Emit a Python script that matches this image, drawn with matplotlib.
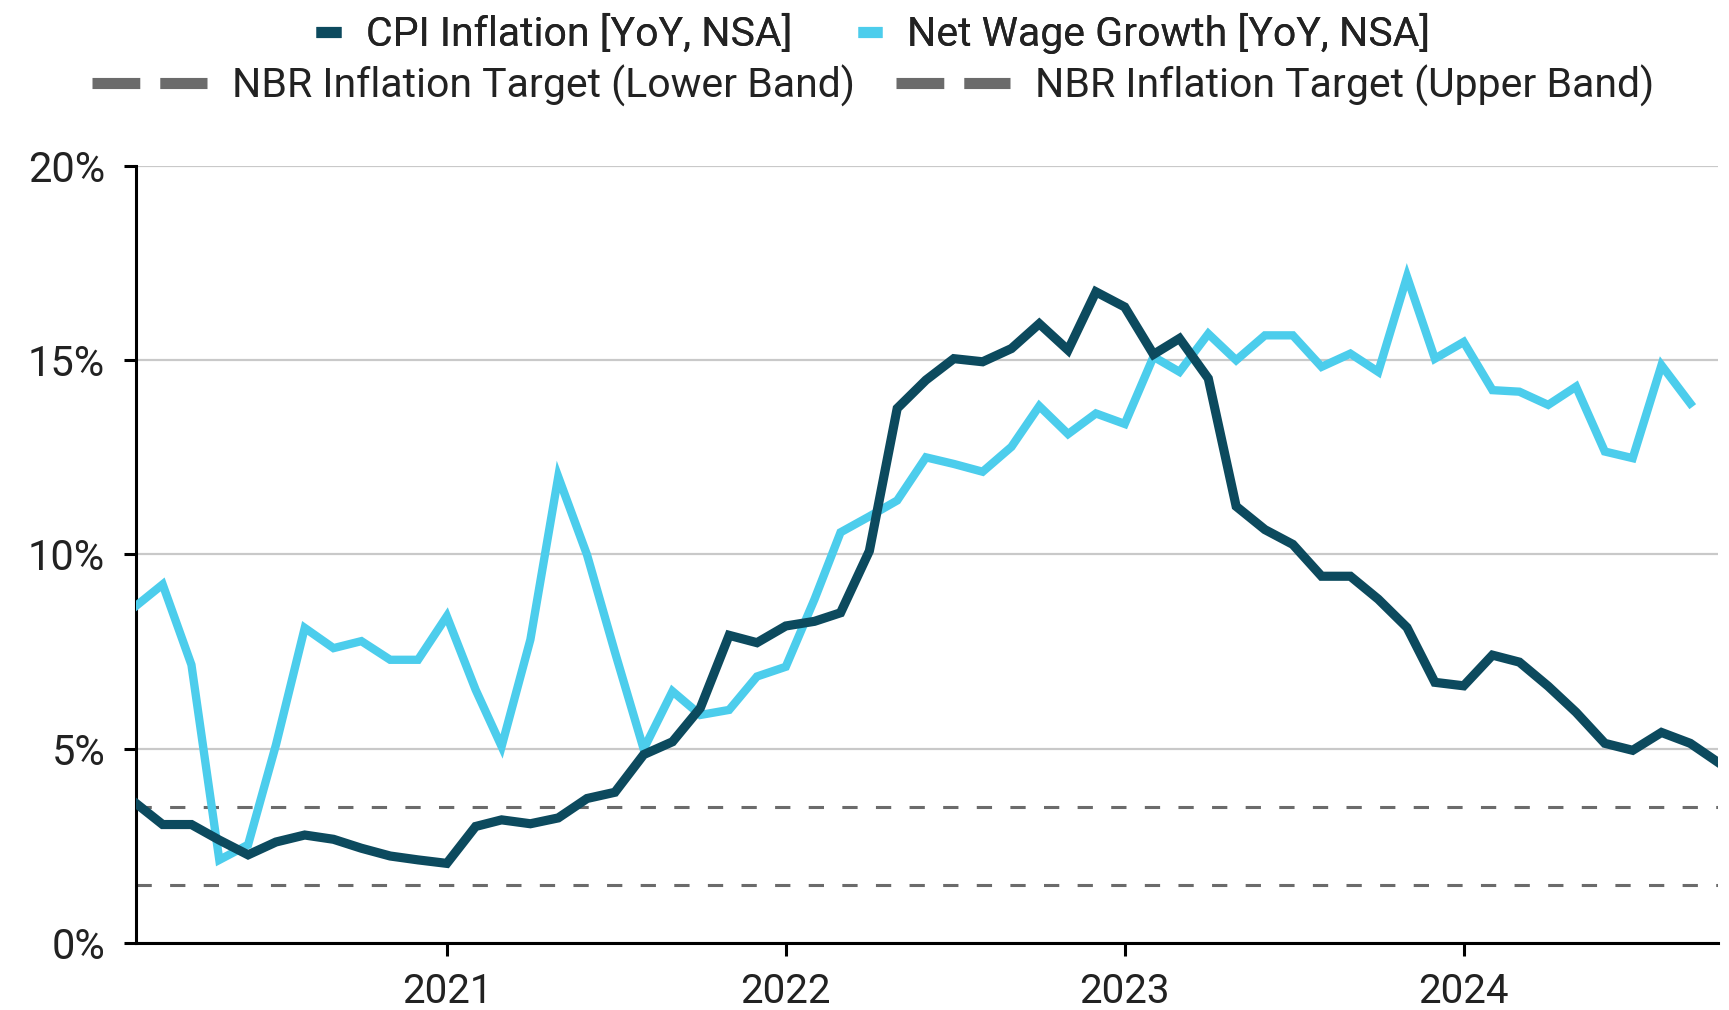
"""
Romania: CPI inflation vs net wage growth, with the NBR inflation target band.
"""

# imports
import numpy as np                # for numerical operations
import pandas as pd               # for the monthly dates
import matplotlib
matplotlib.use("Agg")
import matplotlib.pyplot as plt   # for data visualization
from matplotlib.lines import Line2D

# data (monthly, YoY %)
cpi_start = "2020-02-01"
cpi_inflation = [
    3.60, 3.05, 3.05, 2.65, 2.27, 2.60, 2.78, 2.67, 2.44, 2.24, 2.14,   # 2020
    2.05, 3.00, 3.17, 3.07, 3.22, 3.72, 3.88, 4.85, 5.18, 6.05, 7.92, 7.73,   # 2021
    8.16, 8.28, 8.50, 10.09, 13.76, 14.49, 15.04, 14.96, 15.30, 15.94, 15.26, 16.76,   # 2022
    16.37, 15.15, 15.56, 14.53, 11.24, 10.64, 10.26, 9.44, 9.44, 8.85, 8.12, 6.71,   # 2023
    6.62, 7.41, 7.23, 6.61, 5.94, 5.14, 4.96, 5.42, 5.14, 4.65,   # 2024
]
net_wage_growth = [
    8.67, 9.23, 7.16, 2.14, 2.53, 5.10, 8.11, 7.59, 7.77, 7.29, 7.29,
    8.41, 6.52, 5.06, 7.81, 12.00, 9.99, 7.49, 4.99, 6.48, 5.87, 6.00, 6.86,
    7.11, 8.85, 10.57, 10.98, 11.39, 12.50, 12.33, 12.13, 12.77, 13.82, 13.10, 13.63,
    13.36, 15.09, 14.70, 15.68, 15.00, 15.64, 15.64, 14.83, 15.17, 14.70, 17.15, 15.04,
    15.47, 14.23, 14.19, 13.85, 14.32, 12.65, 12.48, 14.87, 13.89,
]
target_lower = 1.5
target_upper = 3.5
year_ticks = [2021, 2022, 2023, 2024]
y_ticks = [0, 5, 10, 15, 20]

labels = ["CPI Inflation [YoY, NSA]", "Net Wage Growth [YoY, NSA]",
          "NBR Inflation Target (Lower Band)", "NBR Inflation Target (Upper Band)"]

# colours
CPI_COLOR = "#0c4a5e"
WAGE_COLOR = "#4ccdec"
TARGET_COLOR = "#6b6b6b"
GRID_COLOR = "#c9c9c9"
TEXT_COLOR = "#222222"


def plot_chart():
    plt.rcParams["font.family"] = ["Roboto", "DejaVu Sans"]

    fig = plt.figure(figsize=(17.29, 10.10), dpi=100)
    ax = fig.add_axes([0.0785, 0.0663, 0.9152, 0.7694])

    cpi_dates = pd.date_range(cpi_start, periods=len(cpi_inflation), freq="MS")
    wage_dates = pd.date_range(cpi_start, periods=len(net_wage_growth), freq="MS")

    # target band lines
    dash = (5, 6)
    ax.axhline(target_lower, color=TARGET_COLOR, lw=2.2, dashes=dash, zorder=2)
    ax.axhline(target_upper, color=TARGET_COLOR, lw=2.2, dashes=dash, zorder=2)

    # series
    ax.plot(wage_dates, net_wage_growth, color=WAGE_COLOR, lw=6.0,
            solid_joinstyle="miter", zorder=3)
    ax.plot(cpi_dates, cpi_inflation, color=CPI_COLOR, lw=6.6,
            solid_joinstyle="miter", zorder=4)

    # axes
    ax.set_xlim(cpi_dates[0], cpi_dates[-1])
    ax.set_ylim(0, 20)
    ax.set_yticks(y_ticks)
    ax.set_yticklabels([f"{v}%" for v in y_ticks])
    ax.set_xticks([pd.Timestamp(f"{y}-01-01") for y in year_ticks])
    ax.set_xticklabels([str(y) for y in year_ticks])

    ax.yaxis.grid(True, color=GRID_COLOR, lw=1.6, zorder=0)
    ax.set_axisbelow(True)
    for side in ["top", "right"]:
        ax.spines[side].set_visible(False)
    for side in ["left", "bottom"]:
        ax.spines[side].set_linewidth(2.2)
        ax.spines[side].set_color("black")
    ax.tick_params(axis="y", length=9, width=2.2, pad=13, labelsize=30,
                   labelcolor=TEXT_COLOR)
    ax.tick_params(axis="x", length=9, width=2.2, pad=12, labelsize=29,
                   labelcolor=TEXT_COLOR)

    # legend: two centred rows
    row1 = [Line2D([], [], color=CPI_COLOR, lw=8, solid_capstyle="butt"),
            Line2D([], [], color=WAGE_COLOR, lw=8, solid_capstyle="butt")]
    row2 = [Line2D([], [], color=TARGET_COLOR, lw=8, dashes=(4.3, 1.8)),
            Line2D([], [], color=TARGET_COLOR, lw=8, dashes=(4.3, 1.8))]
    leg1 = fig.legend(row1, labels[:2], loc="center", bbox_to_anchor=(0.505, 0.967),
                      ncol=2, frameon=False, fontsize=29.5, handlelength=0.6,
                      handletextpad=0.6, columnspacing=1.6, labelcolor=TEXT_COLOR)
    fig.legend(row2, labels[2:], loc="center", bbox_to_anchor=(0.505, 0.915),
               ncol=2, frameon=False, fontsize=29.5, handlelength=2.8,
               handletextpad=0.6, columnspacing=1.0, labelcolor=TEXT_COLOR)
    fig.add_artist(leg1)

    fig.savefig("out.png", dpi=100)


def main():
    plot_chart()


if __name__ == "__main__":
    main()
